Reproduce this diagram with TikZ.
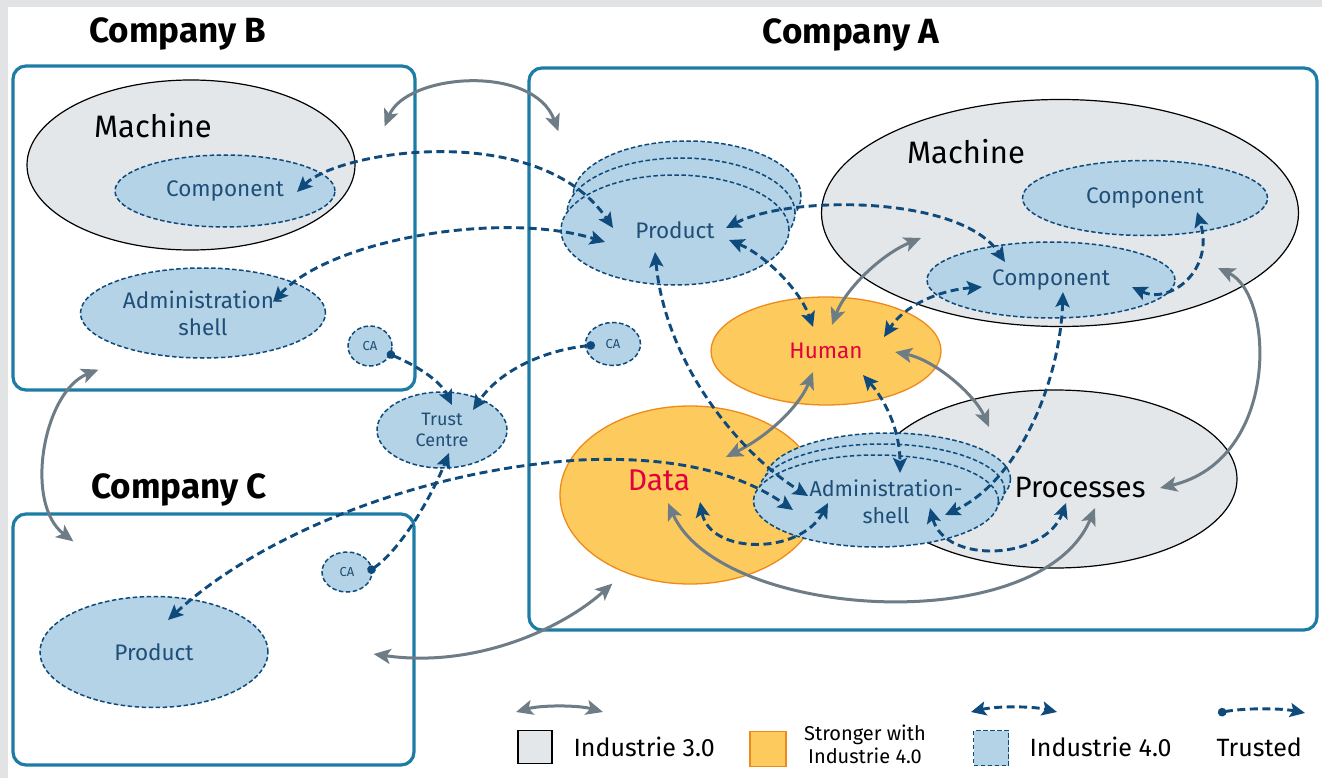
\documentclass[tikz,border=0pt]{standalone}
\usepackage{fontspec}
\setmainfont{Fira Sans}
\usetikzlibrary{arrows.meta,calc,shapes.geometric}

\definecolor{boxblue}{HTML}{1C7CA5}
\definecolor{grayfill}{HTML}{E3E7EA}
\definecolor{lightblue}{HTML}{B4D3E6}
\definecolor{darkblue}{HTML}{0F4A7C}
\definecolor{textblue}{HTML}{1F4E79}
\definecolor{orangefill}{HTML}{FDCA5E}
\definecolor{orangeline}{HTML}{EE8A1A}
\definecolor{redtext}{HTML}{E2003D}
\definecolor{grayarrow}{HTML}{6E7C86}
\definecolor{margin}{HTML}{E1E3E5}

\begin{document}
\begin{tikzpicture}[x=1pt, y=-1pt,
  company/.style={rectangle, draw=boxblue, line width=3.2pt, rounded corners=13pt, inner sep=0pt},
  ctitle/.style={font=\fontsize{35}{38}\selectfont\bfseries, anchor=base},
  bigtext/.style={font=\fontsize{31}{34}\selectfont, anchor=base},
  i30/.style={ellipse, draw=black, line width=1.2pt, fill=grayfill, inner sep=0pt},
  i40/.style={ellipse, draw=darkblue, line width=1.5pt, dash pattern=on 4.5pt off 2.5pt,
              fill=lightblue, inner sep=0pt, text=textblue, align=center,
              font=\fontsize{22.5}{27}\selectfont},
  ca/.style={i40, font=\fontsize{13}{15}\selectfont},
  strong/.style={ellipse, draw=orangeline, line width=1.3pt, fill=orangefill, inner sep=0pt,
                 text=redtext, font=\fontsize{22.5}{27}\selectfont},
  legtext/.style={font=\fontsize{25}{28}\selectfont, anchor=base west},
  link30/.style={draw=grayarrow, line width=3pt,
                 {Stealth[length=17pt,width=15pt,inset=4pt]}-{Stealth[length=17pt,width=15pt,inset=4pt]}},
  link40/.style={draw=darkblue, line width=2.9pt, dash pattern=on 8pt off 4.5pt,
                 {Stealth[length=15pt,width=14pt,inset=3pt]}-{Stealth[length=15pt,width=14pt,inset=3pt]}},
  trusted/.style={draw=darkblue, line width=2.9pt, dash pattern=on 8pt off 4.5pt,
                  {Circle[length=8.5pt]}-{Stealth[length=15pt,width=14pt,inset=3pt]}}
]
\useasboundingbox (0,0) rectangle (1322,778);
\fill[white] (0,0) rectangle (1322,778);
\fill[margin] (0,0) rectangle (8,778);
\fill[margin] (0,0) rectangle (1322,7);

% Companies
\node[company, minimum width=402, minimum height=324] (boxB) at (214,228) {};
\node[company, minimum width=788, minimum height=562] (boxA) at (923,349) {};
\node[company, minimum width=401, minimum height=251] (boxC) at (213.5,639.5) {};
\node[ctitle] (titleB) at (178,43) {Company B};
\node[ctitle] (titleA) at (851,44) {Company A};
\node[ctitle] (titleC) at (179,498) {Company C};

% Company B
\node[i30, minimum width=328, minimum height=170] (machB) at (191,165) {};
\node[bigtext] (machBtext) at (153,138) {Machine};
\node[i40, minimum width=220, minimum height=72] (compB) at (225,191) {Component};
\node[i40, minimum width=245, minimum height=90] (adminB) at (203,313) {Administration-\\shell};
\node[ca, minimum width=44, minimum height=40] (caB) at (370,346) {CA};

% Trust Centre
\node[i40, minimum width=130, minimum height=76, font=\fontsize{18}{20.5}\selectfont] (trust) at (442,430) {Trust\\Centre};

% Company C
\node[ca, minimum width=50, minimum height=40] (caC) at (347,572) {CA};
\node[i40, minimum width=228, minimum height=111] (prodC) at (154,652) {Product};

% Company A
\node[i30, minimum width=477, minimum height=227] (machA) at (1060,213) {};
\node[bigtext] (machAtext) at (966,164) {Machine};
\node[i40, minimum width=245, minimum height=75] (compA1) at (1145,198) {Component};
\node[i40, minimum width=248, minimum height=76] (compA2) at (1051,280) {Component};
\node[i40, minimum width=228, minimum height=110] (prodA3) at (687,196) {};
\node[i40, minimum width=228, minimum height=110] (prodA2) at (681,213) {};
\node[i40, minimum width=228, minimum height=110] (prodA) at (675,230) {Product};
\node[ca, minimum width=55, minimum height=43] (caA) at (613,344) {CA};
\node[strong, minimum width=230, minimum height=108] (human) at (826,351) {Human};
\node[i30, minimum width=364, minimum height=178] (proc) at (1055,479) {};
\node[strong, minimum width=260, minimum height=178] (data) at (690,495) {};
\node[i40, minimum width=245, minimum height=92] (adminA3) at (888,479) {};
\node[i40, minimum width=245, minimum height=92] (adminA2) at (882,490) {};
\node[i40, minimum width=245, minimum height=92] (adminA) at (876,501) {};
\node[text=textblue, align=center, font=\fontsize{21.5}{27}\selectfont] (adminAtext) at (886,502) {Administration-\\shell};
\node[bigtext, text=redtext, font=\fontsize{30}{34}\selectfont] (datatext) at (659,490) {Data};
\node[bigtext, font=\fontsize{29.5}{34}\selectfont] (proctext) at (1080,497) {Processes};

% Industrie 3.0 links
\draw[link30] ($(boxB.north east)+(-32,62)$) .. controls +(22,-53) and +(-25,-68) .. ($(boxA.north west)+(31,65)$);
\draw[link30] ($(boxB.south west)+(87,-22)$) .. controls +(-55,22) and +(-50,-38) .. ($(boxC.north west)+(62,29)$);
\draw[link30] ($(boxC.east)+(-42,14.5)$) .. controls +(98,14) and +(-54,48) .. ($(boxA.south west)+(85,-48)$);
\draw[link30] ($(human)+(6,-26)$) .. controls +(13,-35) and +(-41,17) .. ($(machA)+(-139,25)$);
\draw[link30] ($(human)+(69,1)$) .. controls +(40,8) and +(-14,-32) .. ($(proc)+(-66,-52)$);
\draw[link30] ($(human)+(-13,21)$) .. controls +(-13,33) and +(44,-22) .. ($(data)+(36,-38)$);
\draw[link30] ($(machA)+(158,55)$) .. controls +(57,27) and +(120,-28) .. ($(proc)+(105,9)$);
\draw[link30] ($(data)+(-22,8)$) .. controls +(52,117) and +(-55,132) .. ($(proc)+(40,29)$);

% Industrie 4.0 links
\draw[link40] ($(compB)+(72,1)$) .. controls +(43,-42) and +(-73,-108) .. ($(prodA)+(-62,-2)$);
\draw[link40] ($(adminB)+(70,-11)$) .. controls +(57,-62) and +(-105,-32) .. ($(prodA)+(-70,12)$);
\draw[link40] ($(prodA)+(51,-2)$) .. controls +(64,-33) and +(-45,-67) .. ($(compA2)+(-46,-18)$);
\draw[link40] ($(prodA)+(54,10)$) .. controls +(36,15) and +(-13,-37) .. ($(human)+(-13,-24)$);
\draw[link40] ($(compA2)+(-69,7)$) .. controls +(-42,3) and +(21,-32) .. ($(human)+(58,-14)$);
\draw[link40] ($(compA2)+(81,7)$) .. controls +(38,18) and +(18,58) .. ($(compA1)+(52,14)$);
\draw[link40] ($(compA2)+(12,12)$) .. controls +(-3,88) and +(75,-35) .. ($(adminA)+(69,14)$);
\draw[link40] ($(prodA)+(-20,22)$) .. controls +(10,108) and +(-73,-46) .. ($(adminA)+(-68,-5)$);
\draw[link40] ($(human)+(37,24)$) .. controls +(22,25) and +(0,-43) .. ($(adminA)+(24,-28)$);
\draw[link40] ($(data)+(10,7)$) .. controls +(10,53) and +(-28,52) .. ($(adminA)+(-48,2)$);
\draw[link40] ($(adminA)+(54,7)$) .. controls +(15,57) and +(-21,57) .. ($(proc)+(11,24)$);
\draw[link40] ($(prodC)+(14,-32)$) .. controls +(92,-85) and +(-160,10) .. (580,460)
  .. controls +(110,-5) and +(-43,-30) .. ($(adminA)+(-83,9)$);

% Trusted
\draw[trusted] ($(caB)+(17,7)$) .. controls +(28,12) and +(-12,-25) .. ($(trust)+(10,-25)$);
\draw[trusted] ($(caA)+(-18,1)$) .. controls +(-50,5) and +(27,-40) .. ($(trust)+(31,-20)$);
\draw[trusted] ($(caC)+(21,0)$) .. controls +(32,-22) and +(-19,47) .. ($(trust)+(7,23)$);

% Legend
\coordinate (lg30a) at (516,712);
\coordinate (lg30b) at (603,712);
\coordinate (lg40a) at (971,712);
\coordinate (lg40b) at (1057,712);
\coordinate (lgtra) at (1218,713);
\coordinate (lgtrb) at (1305,713);
\draw[link30] (lg30a) .. controls +(25,-7) and +(-25,-7) .. (lg30b);
\draw[link40] (lg40a) .. controls +(25,-6) and +(-25,-6) .. (lg40b);
\draw[trusted] (lgtra) .. controls +(25,-5) and +(-25,-5) .. (lgtrb);

\node[rectangle, draw=black, line width=1.5pt, fill=grayfill, minimum width=34, minimum height=33] (sq30) at (535,747) {};
\node[legtext] (txt30) at (570,756) {Industrie 3.0};
\node[rectangle, draw=orangeline, line width=1.5pt, fill=orangefill, minimum width=36, minimum height=35] (sqstrong) at (768,749) {};
\node[align=center, font=\fontsize{20}{23}\selectfont] (txtstrong) at (865,744) {Stronger with\\Industrie 4.0};
\node[rectangle, draw=darkblue, line width=1.5pt, dash pattern=on 4.5pt off 2.5pt, fill=lightblue, minimum width=35, minimum height=35] (sq40) at (991,748) {};
\node[legtext] (txt40) at (1026,756) {Industrie 4.0};
\node[legtext] (txttr) at (1213,756) {Trusted};
\end{tikzpicture}
\end{document}
